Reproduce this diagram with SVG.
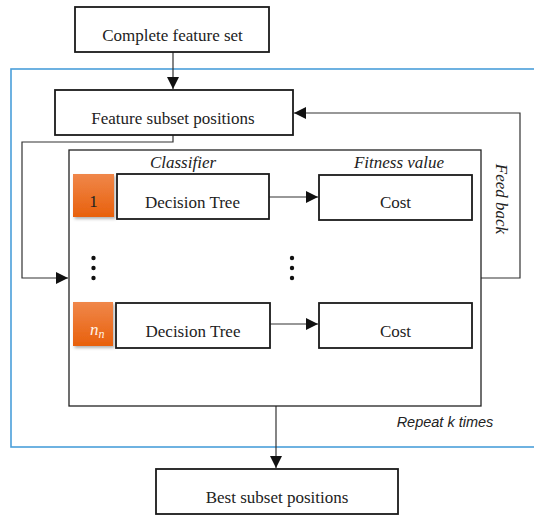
<svg xmlns="http://www.w3.org/2000/svg" width="534" height="515" viewBox="0 0 534 515">
<defs>
<style>
.box{fill:#fff;stroke:#1a1a1a;stroke-width:1.8}
.inner{fill:none;stroke:#222;stroke-width:1.3}
.conn{fill:none;stroke:#333;stroke-width:1.2}
.t{font-size:17px;fill:#222;text-anchor:middle}
.it{font-style:italic}
.rep{font-style:italic;font-size:14.5px;fill:#222;text-anchor:middle}
.dot{fill:#111}
</style>
<marker id="ah" viewBox="0 0 12 12" refX="12" refY="6" markerWidth="12" markerHeight="12" markerUnits="userSpaceOnUse" orient="auto">
<path d="M0,0 L12,6 L0,12 Z" fill="#111"/>
</marker>
<linearGradient id="og" x1="0" y1="0" x2="0" y2="1">
<stop offset="0" stop-color="#F0874A"/>
<stop offset="1" stop-color="#E8600C"/>
</linearGradient>
<filter id="sh" x="-20%" y="-20%" width="150%" height="150%">
<feDropShadow dx="1.5" dy="2" stdDeviation="1.5" flood-color="#000" flood-opacity="0.3"/>
</filter>
</defs>
<rect width="534" height="515" fill="#fff"/>

<rect id="repeat-frame" x="11" y="69" width="600" height="378" fill="none" stroke="#4A9FDA" stroke-width="1.6"/>

<g id="connectors">
<path class="conn" d="M173,52 V89" marker-end="url(#ah)" stroke="#666"/>
<path class="conn" d="M173,135 V142 H22 V278 H68" marker-end="url(#ah)"/>
<path class="conn" d="M481,278 H520 V113 H294" marker-end="url(#ah)" stroke="#555"/>
<path class="conn" d="M269,197 H318" marker-end="url(#ah)"/>
<path class="conn" d="M270,324 H318" marker-end="url(#ah)"/>
<path class="conn" d="M276,406 V468" marker-end="url(#ah)"/>
</g>

<g font-family="'Liberation Serif', 'Times New Roman', serif">
<g id="complete-feature-set">
<rect class="box" x="75" y="7" width="194" height="45"/>
<text class="t" x="172.5" y="41">Complete feature set</text>
</g>

<g id="feature-subset-positions">
<rect class="box" x="55" y="90" width="238" height="45"/>
<text class="t" x="173" y="124">Feature subset positions</text>
</g>

<g id="evaluation-block">
<rect class="inner" x="69" y="150" width="412" height="256"/>
<text class="t it" x="183" y="168">Classifier</text>
<text class="t it" x="399" y="168">Fitness value</text>
</g>

<g id="feed-back-label">
<text class="t it" transform="translate(496,199) rotate(90)" x="0" y="0">Feed back</text>
</g>

<g id="agent-1">
<rect x="73" y="174" width="41" height="43" fill="url(#og)" filter="url(#sh)"/>
<text class="t" x="93.5" y="207">1</text>
</g>

<g id="decision-tree-1">
<rect class="box" x="117" y="174" width="152" height="45"/>
<text class="t" x="192.5" y="208">Decision Tree</text>
</g>

<g id="cost-1">
<rect class="box" x="319" y="175" width="153" height="45"/>
<text class="t" x="395.5" y="208">Cost</text>
</g>

<g id="dots-left">
<circle class="dot" cx="93.5" cy="258" r="2.2"/>
<circle class="dot" cx="93.5" cy="268" r="2.2"/>
<circle class="dot" cx="93.5" cy="278" r="2.2"/>
</g>
<g id="dots-right">
<circle class="dot" cx="292" cy="258" r="2.2"/>
<circle class="dot" cx="292" cy="268" r="2.2"/>
<circle class="dot" cx="292" cy="278" r="2.2"/>
</g>

<g id="agent-n">
<rect x="73" y="302" width="40" height="44" fill="url(#og)" filter="url(#sh)"/>
<text x="90" y="335" font-style="italic" font-size="17" fill="#FFF4E8">n<tspan font-size="12" dy="3">n</tspan></text>
</g>

<g id="decision-tree-n">
<rect class="box" x="116" y="303" width="154" height="45"/>
<text class="t" x="193" y="337">Decision Tree</text>
</g>

<g id="cost-n">
<rect class="box" x="319" y="303" width="153" height="45"/>
<text class="t" x="395.5" y="337">Cost</text>
</g>

<g id="best-subset-positions">
<rect class="box" x="156" y="469" width="242" height="45"/>
<text class="t" x="277" y="503">Best subset positions</text>
</g>
</g>

<g id="repeat-label" font-family="'Liberation Sans', Arial, sans-serif">
<text class="rep" x="445" y="427">Repeat k times</text>
</g>
</svg>
